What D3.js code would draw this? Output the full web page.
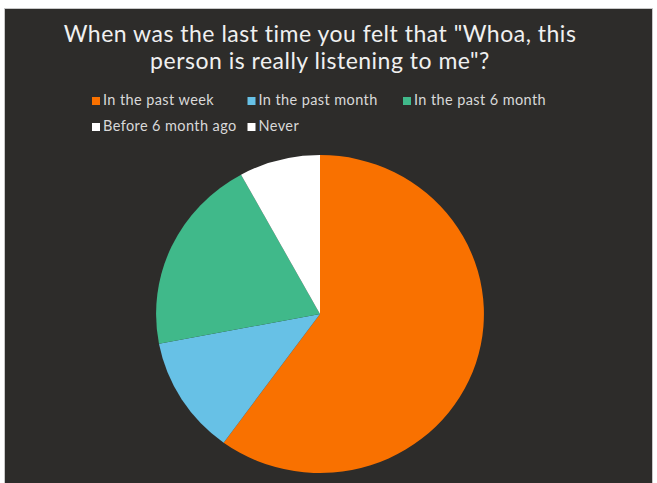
<!DOCTYPE html>
<html>
  <head>
    <meta charset="utf-8">
    <title>Listening survey</title>
    <script src="https://d3js.org/d3.v7.min.js"></script>
    <style>
      body { margin: 0; background: #ffffff; }
      svg { display: block; font-family: "Lato", "Open Sans", sans-serif; }
      .title { fill: #f0f0f0; font-size: 23px; letter-spacing: 0.5px; }
      .key { fill: #d9d9d9; font-size: 14.5px; letter-spacing: 0.4px; }
    </style>
  </head>
  <body>
    <svg id="chart" width="657" height="483"></svg>
    <script>
      // data
      var titleLines = ["When was the last time you felt that \"Whoa, this", "person is really listening to me\"?"];
      var categories = ["In the past week", "In the past month", "In the past 6 month", "Before 6 month ago", "Never"];
      var responses = [15, 3, 5, 2, 0];
      var colours = ["#f97100", "#67c1e6", "#40b98a", "#ffffff", "#ffffff"];

      var chart = d3.select("#chart");

      // dark panel
      chart.append("rect")
        .attr("x", 4.5).attr("y", 8.5)
        .attr("width", 648).attr("height", 480)
        .attr("fill", "#2d2c2a")
        .attr("stroke", "#c8c8c8");

      // title
      chart.selectAll(".title")
          .data(titleLines)
        .enter().append("text")
          .attr("class", "title")
          .attr("x", 320)
          .attr("y", function(d, i) { return 42 + i * 27; })
          .attr("text-anchor", "middle")
          .text(function(d) { return d; });

      // legend
      var colour = d3.scaleOrdinal().domain(categories).range(colours);
      var keyPairs = chart.selectAll(".keyPair")
          .data(categories)
        .enter().append("g")
          .attr("class", "keyPair")
          .attr("transform", function(d, i) {
            return "translate(" + (92 + (i % 3) * 155.5) + "," + (97 + Math.floor(i / 3) * 26) + ")";
          });
      keyPairs.append("rect")
        .attr("width", 8).attr("height", 8)
        .attr("fill", function(d) { return colour(d); });
      keyPairs.append("text")
        .attr("class", "key")
        .attr("x", 11).attr("y", 8)
        .text(function(d) { return d; });

      // pie
      var radius = 159;
      var pie = d3.pie().sort(null).value(function(d) { return d.value; });
      var arc = d3.arc().innerRadius(0).outerRadius(radius);
      var pieData = pie(categories.map(function(c, i) { return { key: c, value: responses[i] }; }));
      chart.append("g")
          .attr("transform", "translate(320,314) scale(1.031,1)")
        .selectAll("path")
          .data(pieData)
        .enter().append("path")
          .attr("d", arc)
          .attr("fill", function(d) { return colour(d.data.key); });
    </script>
  </body>
</html>
